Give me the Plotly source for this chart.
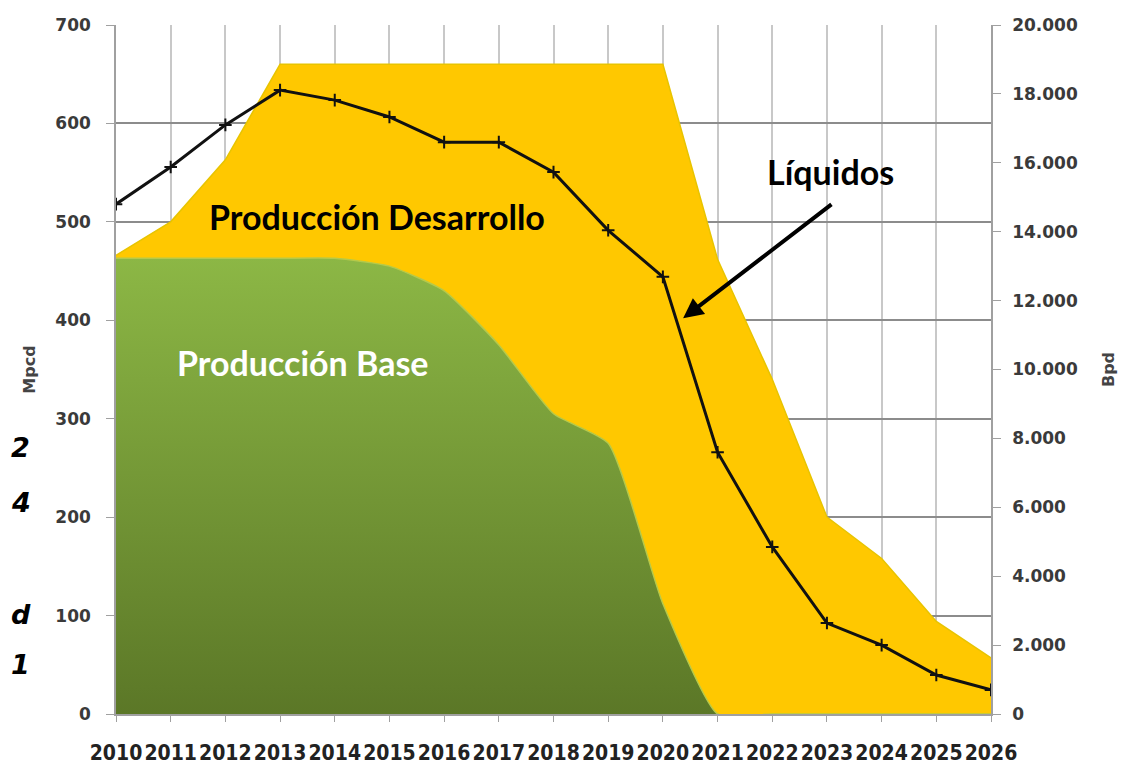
import plotly.graph_objects as go

years = list(range(2010, 2027))
base_mpcd = [463, 463, 463, 463, 463, 455, 430, 375, 305, 275, 112, 0, 0, 0, 0, 0, 0]
total_mpcd = [466, 500, 563, 660, 660, 660, 660, 660, 660, 660, 660, 462, 340, 200, 158, 94, 57]
liquidos_bpd = [14800, 15880, 17100, 18110, 17820, 17330, 16600, 16600, 15730, 14040, 12690, 7600, 4850, 2640, 2000, 1130, 700]

left_ticks = list(range(0, 701, 100))
right_ticks = list(range(0, 20001, 2000))

FONT = "Lato, 'Open Sans', sans-serif"
TICKFONT = "'DejaVu Sans', sans-serif"

# page body has an 8px margin; plot area wanted at x 116..991, y 25..714
L, T = 116 - 8, 25 - 8
R = 1131 - (991 - 8)
B = 774 - (714 - 8)
PW, PH = 991 - 116, 714 - 25

fig = go.Figure()

fig.add_trace(go.Scatter(
    x=years, y=total_mpcd, mode="lines", fill="tozeroy",
    line=dict(color="#e8c400", width=1.5),
    fillcolor="#ffc800",
    name="Producción Desarrollo", hoverinfo="skip"))

fig.add_trace(go.Scatter(
    x=years, y=base_mpcd, mode="lines", fill="tozeroy",
    line=dict(color="#b5c94a", width=1.5, shape="spline", smoothing=0.5),
    fillgradient=dict(type="vertical",
                      colorscale=[[0, "#5b7727"], [1, "#8cb745"]]),
    name="Producción Base", hoverinfo="skip"))

fig.add_trace(go.Scatter(
    x=years, y=liquidos_bpd, yaxis="y2", mode="lines+markers",
    line=dict(color="#111111", width=3),
    marker=dict(symbol="cross-thin-open", size=9, line=dict(color="#111111", width=2)),
    name="Líquidos"))

fig.update_layout(
    width=1131, height=774,
    margin=dict(l=L, r=R, t=T, b=B, autoexpand=False),
    paper_bgcolor="white", plot_bgcolor="white",
    showlegend=False,
    separators=",.",
    font=dict(family=FONT, color="#333333"),
    xaxis=dict(range=[2010, 2026], tickmode="array", tickvals=years,
               ticktext=["<b>%d</b>" % y for y in years],
               showgrid=True, gridcolor="#c8c8c8", gridwidth=1.5,
               showline=True, linecolor="#a0a0a0", linewidth=1.5,
               ticks="outside", ticklen=6, tickcolor="#a0a0a0",
               ticklabelstandoff=13,
               tickfont=dict(family="'Liberation Sans Narrow', 'DejaVu Sans Condensed', sans-serif",
                             size=21, color="#222222"),
               zeroline=False, automargin=False),
    yaxis=dict(range=[0, 700], tickmode="array", tickvals=left_ticks,
               ticktext=["<b>%d</b>" % v for v in left_ticks],
               showgrid=True, gridcolor="#8c8c8c", gridwidth=1.5,
               showline=True, linecolor="#a0a0a0", linewidth=1.5,
               ticks="outside", ticklen=8, tickcolor="#a0a0a0",
               ticklabelstandoff=12,
               tickfont=dict(family=TICKFONT, size=17, color="#3a3a3a"),
               title=dict(text="<b>Mpcd</b>", font=dict(family=TICKFONT, size=16, color="#444444"),
                          standoff=16),
               zeroline=False, automargin=False),
    yaxis2=dict(range=[0, 20000], tickmode="array", tickvals=right_ticks,
                ticktext=["<b>" + f"{v:,}".replace(",", ".") + "</b>" for v in right_ticks],
                overlaying="y", side="right",
                showgrid=False,
                showline=True, linecolor="#a0a0a0", linewidth=1.5,
                ticks="outside", ticklen=8, tickcolor="#a0a0a0",
                ticklabelstandoff=8,
                tickfont=dict(family=TICKFONT, size=17, color="#3a3a3a"),
                title=dict(text="<b>Bpd</b>", font=dict(family=TICKFONT, size=16, color="#444444"),
                           standoff=26),
                zeroline=False, automargin=False),
)

ann_font = "Lato, 'Open Sans', sans-serif"
fig.add_annotation(x=2014.77, y=505, xref="x", yref="y", text="<b>Producción Desarrollo</b>",
                   showarrow=False, font=dict(family=ann_font, size=34, color="#000000"))
fig.add_annotation(x=2013.42, y=357, xref="x", yref="y", text="<b>Producción Base</b>",
                   showarrow=False, font=dict(family=ann_font, size=34, color="#ffffff"))
fig.add_annotation(x=2023.06, y=551, xref="x", yref="y", text="<b>Líquidos</b>",
                   showarrow=False, font=dict(family=ann_font, size=34, color="#000000"))
fig.add_annotation(x=2020.37, y=402, ax=2023.11, ay=519, xref="x", yref="y", axref="x", ayref="y",
                   text="", showarrow=True, arrowhead=2, arrowsize=1, arrowwidth=4,
                   arrowcolor="#000000")

# fragments of slide text cut at the left edge of the original picture
for txt, py in [("2", 447), ("4", 502), ("d", 614), ("1", 664)]:
    fig.add_annotation(x=(9 - 116) / PW, y=(714 - py) / PH, xref="paper", yref="paper",
                       text="<b><i>" + txt + "</i></b>", showarrow=False, xanchor="left",
                       yanchor="middle",
                       font=dict(family="'DejaVu Sans', sans-serif", size=27, color="#000000",
                                 weight="bold", style="italic"))

fig.write_html("out.html")
